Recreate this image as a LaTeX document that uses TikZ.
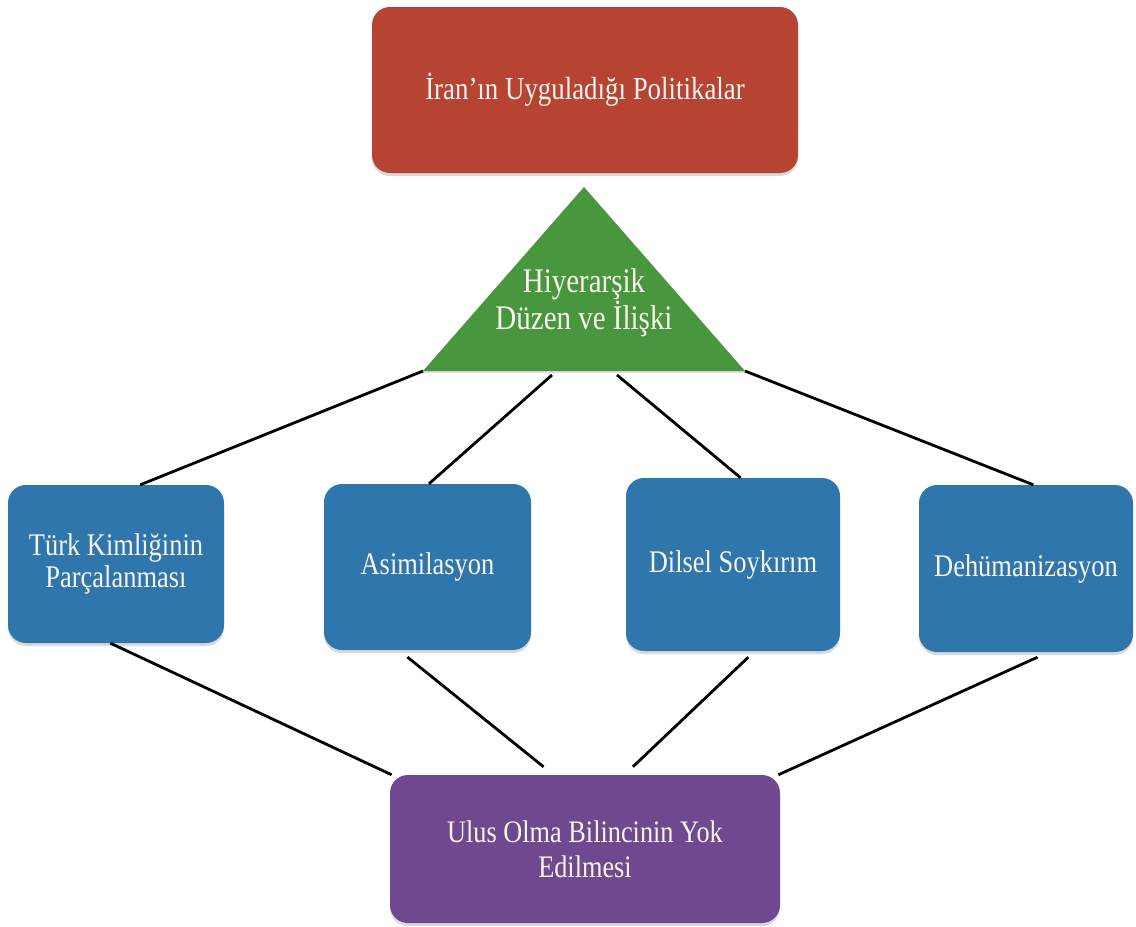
\documentclass[tikz,border=0pt]{standalone}
\usepackage{fontspec}
\setmainfont[FakeStretch=0.84]{Liberation Serif}
\usetikzlibrary{shadows}

\definecolor{iranred}{RGB}{183,68,50}
\definecolor{hiergreen}{RGB}{72,150,62}
\definecolor{polblue}{RGB}{46,118,172}
\definecolor{ulusviolet}{RGB}{111,72,143}
\definecolor{ivory}{RGB}{250,245,236}

\begin{document}
\begin{tikzpicture} [x=1pt,y=-1pt,
  card/.style={rounded corners=18pt, text=ivory, align=center, inner sep=0pt,
    drop shadow={opacity=0.3, shadow xshift=0pt, shadow yshift=-3pt}},
  policy/.style={card, fill=polblue, font=\fontsize{31.5}{32}\selectfont},
  link/.style={line width=2.8pt, black}]

\useasboundingbox (0,0) rectangle (1136,927);
%\draw [help lines, step=50] (0,0) grid (1136,927);

\node [card, fill=iranred, minimum width=426pt, minimum height=166pt,
  font=\fontsize{32}{34}\selectfont] (iran) at (585,90) {İran’ın Uyguladığı Politikalar};

\coordinate (apex) at (584,187);
\coordinate (tri1) at (423,371);
\coordinate (tri2) at (552,375);
\coordinate (tri3) at (617,375);
\coordinate (tri4) at (745,371);
\fill [hiergreen, drop shadow={opacity=0.25, shadow xshift=0pt, shadow yshift=-2pt}]
  (apex) -- (tri4) -- (tri1) -- cycle;
\node [text=ivory, align=center, font=\fontsize{34.5}{37}\selectfont] (hier) at (584,303)
  {Hiyerarşik\\Düzen ve İlişki};

\node [policy, minimum width=216pt, minimum height=158pt] (turk) at (116,564)
  {Türk Kimliğinin\\Parçalanması};
\node [policy, minimum width=207pt, minimum height=166pt] (asim) at (427.5,567) {Asimilasyon};
\node [policy, minimum width=214pt, minimum height=173pt] (dilsel) at (733,564.5) {Dilsel Soykırım};
\node [policy, minimum width=214pt, minimum height=167pt] (dehum) at (1026,568.5) {Dehümanizasyon};

\node [card, fill=ulusviolet, minimum width=390pt, minimum height=148pt,
  font=\fontsize{31.3}{35}\selectfont] (ulus) at (585,849) {Ulus Olma Bilincinin Yok\\Edilmesi};

\draw [link] (tri1) -- (turk.73);
\draw [link] (tri2) -- (asim.89);
\draw [link] (tri3) -- (dilsel.85);
\draw [link] (tri4) -- (dehum.85);

\draw [link] (turk.266) -- (ulus.159.5);
\draw [link, shorten <=11pt, shorten >=12.7pt] (asim.251) -- (ulus.113.5);
\draw [link, shorten <=8.7pt, shorten >=11.6pt] (dilsel.-76) -- (ulus.62);
\draw [link, shorten <=12pt] (dehum.-75) -- (ulus.21);

\end{tikzpicture}
\end{document}
